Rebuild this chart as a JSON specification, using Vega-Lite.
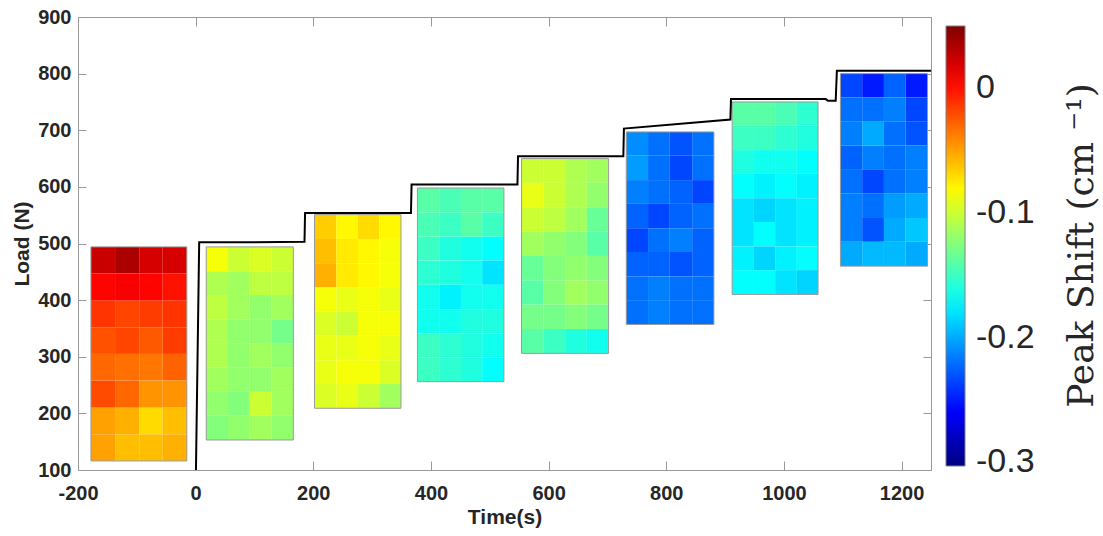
{
"$schema":"https://vega.github.io/schema/vega-lite/v6.json",
"width":853,"height":453,
"autosize":{"type":"none"},
"padding":{"left":78,"top":17,"right":172,"bottom":66},
"config":{"view":{"stroke":null},"axis":{"grid":false,"domainColor":"#999999","tickColor":"#999999","labelFlush":false}},
"datasets":{
"cells":[
{"t0":-178,"t1":-137,"f0":447,"f1":494,"shift":0.025},{"t0":-137,"t1":-96,"f0":447,"f1":494,"shift":0.035},{"t0":-96,"t1":-56,"f0":447,"f1":494,"shift":0.02},{"t0":-56,"t1":-15,"f0":447,"f1":494,"shift":0.02},
{"t0":-178,"t1":-137,"f0":399,"f1":447,"shift":0.005},{"t0":-137,"t1":-96,"f0":399,"f1":447,"shift":0.008},{"t0":-96,"t1":-56,"f0":399,"f1":447,"shift":0.005},{"t0":-56,"t1":-15,"f0":399,"f1":447,"shift":0.0},
{"t0":-178,"t1":-137,"f0":352,"f1":399,"shift":-0.012},{"t0":-137,"t1":-96,"f0":352,"f1":399,"shift":-0.018},{"t0":-96,"t1":-56,"f0":352,"f1":399,"shift":-0.015},{"t0":-56,"t1":-15,"f0":352,"f1":399,"shift":-0.012},
{"t0":-178,"t1":-137,"f0":305,"f1":352,"shift":-0.022},{"t0":-137,"t1":-96,"f0":305,"f1":352,"shift":-0.018},{"t0":-96,"t1":-56,"f0":305,"f1":352,"shift":-0.025},{"t0":-56,"t1":-15,"f0":305,"f1":352,"shift":-0.015},
{"t0":-178,"t1":-137,"f0":258,"f1":305,"shift":-0.03},{"t0":-137,"t1":-96,"f0":258,"f1":305,"shift":-0.033},{"t0":-96,"t1":-56,"f0":258,"f1":305,"shift":-0.035},{"t0":-56,"t1":-15,"f0":258,"f1":305,"shift":-0.028},
{"t0":-178,"t1":-137,"f0":210,"f1":258,"shift":-0.02},{"t0":-137,"t1":-96,"f0":210,"f1":258,"shift":-0.03},{"t0":-96,"t1":-56,"f0":210,"f1":258,"shift":-0.045},{"t0":-56,"t1":-15,"f0":210,"f1":258,"shift":-0.045},
{"t0":-178,"t1":-137,"f0":163,"f1":210,"shift":-0.05},{"t0":-137,"t1":-96,"f0":163,"f1":210,"shift":-0.055},{"t0":-96,"t1":-56,"f0":163,"f1":210,"shift":-0.07},{"t0":-56,"t1":-15,"f0":163,"f1":210,"shift":-0.06},
{"t0":-178,"t1":-137,"f0":116,"f1":163,"shift":-0.05},{"t0":-137,"t1":-96,"f0":116,"f1":163,"shift":-0.06},{"t0":-96,"t1":-56,"f0":116,"f1":163,"shift":-0.06},{"t0":-56,"t1":-15,"f0":116,"f1":163,"shift":-0.055},

{"t0":18,"t1":55,"f0":451,"f1":494,"shift":-0.085},{"t0":55,"t1":92,"f0":451,"f1":494,"shift":-0.1},{"t0":92,"t1":129,"f0":451,"f1":494,"shift":-0.095},{"t0":129,"t1":166,"f0":451,"f1":494,"shift":-0.1},
{"t0":18,"t1":55,"f0":409,"f1":451,"shift":-0.11},{"t0":55,"t1":92,"f0":409,"f1":451,"shift":-0.115},{"t0":92,"t1":129,"f0":409,"f1":451,"shift":-0.105},{"t0":129,"t1":166,"f0":409,"f1":451,"shift":-0.105},
{"t0":18,"t1":55,"f0":366,"f1":409,"shift":-0.105},{"t0":55,"t1":92,"f0":366,"f1":409,"shift":-0.115},{"t0":92,"t1":129,"f0":366,"f1":409,"shift":-0.12},{"t0":129,"t1":166,"f0":366,"f1":409,"shift":-0.115},
{"t0":18,"t1":55,"f0":324,"f1":366,"shift":-0.11},{"t0":55,"t1":92,"f0":324,"f1":366,"shift":-0.12},{"t0":92,"t1":129,"f0":324,"f1":366,"shift":-0.12},{"t0":129,"t1":166,"f0":324,"f1":366,"shift":-0.13},
{"t0":18,"t1":55,"f0":281,"f1":324,"shift":-0.11},{"t0":55,"t1":92,"f0":281,"f1":324,"shift":-0.12},{"t0":92,"t1":129,"f0":281,"f1":324,"shift":-0.115},{"t0":129,"t1":166,"f0":281,"f1":324,"shift":-0.12},
{"t0":18,"t1":55,"f0":238,"f1":281,"shift":-0.115},{"t0":55,"t1":92,"f0":238,"f1":281,"shift":-0.12},{"t0":92,"t1":129,"f0":238,"f1":281,"shift":-0.12},{"t0":129,"t1":166,"f0":238,"f1":281,"shift":-0.115},
{"t0":18,"t1":55,"f0":196,"f1":238,"shift":-0.12},{"t0":55,"t1":92,"f0":196,"f1":238,"shift":-0.125},{"t0":92,"t1":129,"f0":196,"f1":238,"shift":-0.1},{"t0":129,"t1":166,"f0":196,"f1":238,"shift":-0.115},
{"t0":18,"t1":55,"f0":153,"f1":196,"shift":-0.125},{"t0":55,"t1":92,"f0":153,"f1":196,"shift":-0.12},{"t0":92,"t1":129,"f0":153,"f1":196,"shift":-0.115},{"t0":129,"t1":166,"f0":153,"f1":196,"shift":-0.12},

{"t0":202,"t1":239,"f0":508,"f1":551,"shift":-0.065},{"t0":239,"t1":276,"f0":508,"f1":551,"shift":-0.08},{"t0":276,"t1":312,"f0":508,"f1":551,"shift":-0.07},{"t0":312,"t1":349,"f0":508,"f1":551,"shift":-0.08},
{"t0":202,"t1":239,"f0":465,"f1":508,"shift":-0.06},{"t0":239,"t1":276,"f0":465,"f1":508,"shift":-0.075},{"t0":276,"t1":312,"f0":465,"f1":508,"shift":-0.08},{"t0":312,"t1":349,"f0":465,"f1":508,"shift":-0.085},
{"t0":202,"t1":239,"f0":423,"f1":465,"shift":-0.055},{"t0":239,"t1":276,"f0":423,"f1":465,"shift":-0.075},{"t0":276,"t1":312,"f0":423,"f1":465,"shift":-0.08},{"t0":312,"t1":349,"f0":423,"f1":465,"shift":-0.085},
{"t0":202,"t1":239,"f0":380,"f1":423,"shift":-0.085},{"t0":239,"t1":276,"f0":380,"f1":423,"shift":-0.09},{"t0":276,"t1":312,"f0":380,"f1":423,"shift":-0.085},{"t0":312,"t1":349,"f0":380,"f1":423,"shift":-0.09},
{"t0":202,"t1":239,"f0":337,"f1":380,"shift":-0.095},{"t0":239,"t1":276,"f0":337,"f1":380,"shift":-0.1},{"t0":276,"t1":312,"f0":337,"f1":380,"shift":-0.085},{"t0":312,"t1":349,"f0":337,"f1":380,"shift":-0.085},
{"t0":202,"t1":239,"f0":294,"f1":337,"shift":-0.09},{"t0":239,"t1":276,"f0":294,"f1":337,"shift":-0.09},{"t0":276,"t1":312,"f0":294,"f1":337,"shift":-0.085},{"t0":312,"t1":349,"f0":294,"f1":337,"shift":-0.09},
{"t0":202,"t1":239,"f0":252,"f1":294,"shift":-0.09},{"t0":239,"t1":276,"f0":252,"f1":294,"shift":-0.085},{"t0":276,"t1":312,"f0":252,"f1":294,"shift":-0.085},{"t0":312,"t1":349,"f0":252,"f1":294,"shift":-0.095},
{"t0":202,"t1":239,"f0":209,"f1":252,"shift":-0.095},{"t0":239,"t1":276,"f0":209,"f1":252,"shift":-0.09},{"t0":276,"t1":312,"f0":209,"f1":252,"shift":-0.1},{"t0":312,"t1":349,"f0":209,"f1":252,"shift":-0.115},

{"t0":377,"t1":414,"f0":555,"f1":598,"shift":-0.14},{"t0":414,"t1":451,"f0":555,"f1":598,"shift":-0.145},{"t0":451,"t1":487,"f0":555,"f1":598,"shift":-0.14},{"t0":487,"t1":524,"f0":555,"f1":598,"shift":-0.14},
{"t0":377,"t1":414,"f0":512,"f1":555,"shift":-0.145},{"t0":414,"t1":451,"f0":512,"f1":555,"shift":-0.15},{"t0":451,"t1":487,"f0":512,"f1":555,"shift":-0.14},{"t0":487,"t1":524,"f0":512,"f1":555,"shift":-0.15},
{"t0":377,"t1":414,"f0":470,"f1":512,"shift":-0.15},{"t0":414,"t1":451,"f0":470,"f1":512,"shift":-0.16},{"t0":451,"t1":487,"f0":470,"f1":512,"shift":-0.165},{"t0":487,"t1":524,"f0":470,"f1":512,"shift":-0.17},
{"t0":377,"t1":414,"f0":427,"f1":470,"shift":-0.155},{"t0":414,"t1":451,"f0":427,"f1":470,"shift":-0.16},{"t0":451,"t1":487,"f0":427,"f1":470,"shift":-0.165},{"t0":487,"t1":524,"f0":427,"f1":470,"shift":-0.18},
{"t0":377,"t1":414,"f0":384,"f1":427,"shift":-0.165},{"t0":414,"t1":451,"f0":384,"f1":427,"shift":-0.175},{"t0":451,"t1":487,"f0":384,"f1":427,"shift":-0.165},{"t0":487,"t1":524,"f0":384,"f1":427,"shift":-0.165},
{"t0":377,"t1":414,"f0":341,"f1":384,"shift":-0.165},{"t0":414,"t1":451,"f0":341,"f1":384,"shift":-0.165},{"t0":451,"t1":487,"f0":341,"f1":384,"shift":-0.16},{"t0":487,"t1":524,"f0":341,"f1":384,"shift":-0.16},
{"t0":377,"t1":414,"f0":299,"f1":341,"shift":-0.15},{"t0":414,"t1":451,"f0":299,"f1":341,"shift":-0.155},{"t0":451,"t1":487,"f0":299,"f1":341,"shift":-0.16},{"t0":487,"t1":524,"f0":299,"f1":341,"shift":-0.165},
{"t0":377,"t1":414,"f0":256,"f1":299,"shift":-0.15},{"t0":414,"t1":451,"f0":256,"f1":299,"shift":-0.155},{"t0":451,"t1":487,"f0":256,"f1":299,"shift":-0.16},{"t0":487,"t1":524,"f0":256,"f1":299,"shift":-0.17},

{"t0":554,"t1":591,"f0":607,"f1":650,"shift":-0.1},{"t0":591,"t1":628,"f0":607,"f1":650,"shift":-0.1},{"t0":628,"t1":665,"f0":607,"f1":650,"shift":-0.11},{"t0":665,"t1":702,"f0":607,"f1":650,"shift":-0.115},
{"t0":554,"t1":591,"f0":564,"f1":607,"shift":-0.09},{"t0":591,"t1":628,"f0":564,"f1":607,"shift":-0.1},{"t0":628,"t1":665,"f0":564,"f1":607,"shift":-0.11},{"t0":665,"t1":702,"f0":564,"f1":607,"shift":-0.12},
{"t0":554,"t1":591,"f0":521,"f1":564,"shift":-0.1},{"t0":591,"t1":628,"f0":521,"f1":564,"shift":-0.105},{"t0":628,"t1":665,"f0":521,"f1":564,"shift":-0.115},{"t0":665,"t1":702,"f0":521,"f1":564,"shift":-0.135},
{"t0":554,"t1":591,"f0":478,"f1":521,"shift":-0.115},{"t0":591,"t1":628,"f0":478,"f1":521,"shift":-0.12},{"t0":628,"t1":665,"f0":478,"f1":521,"shift":-0.125},{"t0":665,"t1":702,"f0":478,"f1":521,"shift":-0.14},
{"t0":554,"t1":591,"f0":435,"f1":478,"shift":-0.135},{"t0":591,"t1":628,"f0":435,"f1":478,"shift":-0.125},{"t0":628,"t1":665,"f0":435,"f1":478,"shift":-0.12},{"t0":665,"t1":702,"f0":435,"f1":478,"shift":-0.125},
{"t0":554,"t1":591,"f0":392,"f1":435,"shift":-0.14},{"t0":591,"t1":628,"f0":392,"f1":435,"shift":-0.125},{"t0":628,"t1":665,"f0":392,"f1":435,"shift":-0.115},{"t0":665,"t1":702,"f0":392,"f1":435,"shift":-0.12},
{"t0":554,"t1":591,"f0":349,"f1":392,"shift":-0.13},{"t0":591,"t1":628,"f0":349,"f1":392,"shift":-0.13},{"t0":628,"t1":665,"f0":349,"f1":392,"shift":-0.125},{"t0":665,"t1":702,"f0":349,"f1":392,"shift":-0.13},
{"t0":554,"t1":591,"f0":306,"f1":349,"shift":-0.14},{"t0":591,"t1":628,"f0":306,"f1":349,"shift":-0.15},{"t0":628,"t1":665,"f0":306,"f1":349,"shift":-0.16},{"t0":665,"t1":702,"f0":306,"f1":349,"shift":-0.165},

{"t0":732,"t1":769,"f0":655,"f1":697,"shift":-0.21},{"t0":769,"t1":806,"f0":655,"f1":697,"shift":-0.22},{"t0":806,"t1":844,"f0":655,"f1":697,"shift":-0.23},{"t0":844,"t1":881,"f0":655,"f1":697,"shift":-0.22},
{"t0":732,"t1":769,"f0":612,"f1":655,"shift":-0.205},{"t0":769,"t1":806,"f0":612,"f1":655,"shift":-0.22},{"t0":806,"t1":844,"f0":612,"f1":655,"shift":-0.235},{"t0":844,"t1":881,"f0":612,"f1":655,"shift":-0.22},
{"t0":732,"t1":769,"f0":570,"f1":612,"shift":-0.215},{"t0":769,"t1":806,"f0":570,"f1":612,"shift":-0.22},{"t0":806,"t1":844,"f0":570,"f1":612,"shift":-0.225},{"t0":844,"t1":881,"f0":570,"f1":612,"shift":-0.235},
{"t0":732,"t1":769,"f0":527,"f1":570,"shift":-0.225},{"t0":769,"t1":806,"f0":527,"f1":570,"shift":-0.235},{"t0":806,"t1":844,"f0":527,"f1":570,"shift":-0.225},{"t0":844,"t1":881,"f0":527,"f1":570,"shift":-0.22},
{"t0":732,"t1":769,"f0":485,"f1":527,"shift":-0.235},{"t0":769,"t1":806,"f0":485,"f1":527,"shift":-0.22},{"t0":806,"t1":844,"f0":485,"f1":527,"shift":-0.215},{"t0":844,"t1":881,"f0":485,"f1":527,"shift":-0.225},
{"t0":732,"t1":769,"f0":442,"f1":485,"shift":-0.225},{"t0":769,"t1":806,"f0":442,"f1":485,"shift":-0.225},{"t0":806,"t1":844,"f0":442,"f1":485,"shift":-0.23},{"t0":844,"t1":881,"f0":442,"f1":485,"shift":-0.225},
{"t0":732,"t1":769,"f0":400,"f1":442,"shift":-0.22},{"t0":769,"t1":806,"f0":400,"f1":442,"shift":-0.215},{"t0":806,"t1":844,"f0":400,"f1":442,"shift":-0.22},{"t0":844,"t1":881,"f0":400,"f1":442,"shift":-0.22},
{"t0":732,"t1":769,"f0":357,"f1":400,"shift":-0.22},{"t0":769,"t1":806,"f0":357,"f1":400,"shift":-0.215},{"t0":806,"t1":844,"f0":357,"f1":400,"shift":-0.22},{"t0":844,"t1":881,"f0":357,"f1":400,"shift":-0.22},

{"t0":912,"t1":949,"f0":708,"f1":750,"shift":-0.14},{"t0":949,"t1":985,"f0":708,"f1":750,"shift":-0.14},{"t0":985,"t1":1022,"f0":708,"f1":750,"shift":-0.145},{"t0":1022,"t1":1058,"f0":708,"f1":750,"shift":-0.155},
{"t0":912,"t1":949,"f0":665,"f1":708,"shift":-0.15},{"t0":949,"t1":985,"f0":665,"f1":708,"shift":-0.15},{"t0":985,"t1":1022,"f0":665,"f1":708,"shift":-0.155},{"t0":1022,"t1":1058,"f0":665,"f1":708,"shift":-0.16},
{"t0":912,"t1":949,"f0":623,"f1":665,"shift":-0.16},{"t0":949,"t1":985,"f0":623,"f1":665,"shift":-0.165},{"t0":985,"t1":1022,"f0":623,"f1":665,"shift":-0.165},{"t0":1022,"t1":1058,"f0":623,"f1":665,"shift":-0.17},
{"t0":912,"t1":949,"f0":580,"f1":623,"shift":-0.17},{"t0":949,"t1":985,"f0":580,"f1":623,"shift":-0.175},{"t0":985,"t1":1022,"f0":580,"f1":623,"shift":-0.17},{"t0":1022,"t1":1058,"f0":580,"f1":623,"shift":-0.175},
{"t0":912,"t1":949,"f0":538,"f1":580,"shift":-0.18},{"t0":949,"t1":985,"f0":538,"f1":580,"shift":-0.185},{"t0":985,"t1":1022,"f0":538,"f1":580,"shift":-0.18},{"t0":1022,"t1":1058,"f0":538,"f1":580,"shift":-0.175},
{"t0":912,"t1":949,"f0":495,"f1":538,"shift":-0.18},{"t0":949,"t1":985,"f0":495,"f1":538,"shift":-0.17},{"t0":985,"t1":1022,"f0":495,"f1":538,"shift":-0.18},{"t0":1022,"t1":1058,"f0":495,"f1":538,"shift":-0.175},
{"t0":912,"t1":949,"f0":453,"f1":495,"shift":-0.175},{"t0":949,"t1":985,"f0":453,"f1":495,"shift":-0.185},{"t0":985,"t1":1022,"f0":453,"f1":495,"shift":-0.175},{"t0":1022,"t1":1058,"f0":453,"f1":495,"shift":-0.17},
{"t0":912,"t1":949,"f0":410,"f1":453,"shift":-0.17},{"t0":949,"t1":985,"f0":410,"f1":453,"shift":-0.17},{"t0":985,"t1":1022,"f0":410,"f1":453,"shift":-0.18},{"t0":1022,"t1":1058,"f0":410,"f1":453,"shift":-0.185},

{"t0":1096,"t1":1133,"f0":758,"f1":800,"shift":-0.235},{"t0":1133,"t1":1170,"f0":758,"f1":800,"shift":-0.25},{"t0":1170,"t1":1207,"f0":758,"f1":800,"shift":-0.225},{"t0":1207,"t1":1244,"f0":758,"f1":800,"shift":-0.25},
{"t0":1096,"t1":1133,"f0":715,"f1":758,"shift":-0.22},{"t0":1133,"t1":1170,"f0":715,"f1":758,"shift":-0.22},{"t0":1170,"t1":1207,"f0":715,"f1":758,"shift":-0.215},{"t0":1207,"t1":1244,"f0":715,"f1":758,"shift":-0.235},
{"t0":1096,"t1":1133,"f0":673,"f1":715,"shift":-0.215},{"t0":1133,"t1":1170,"f0":673,"f1":715,"shift":-0.2},{"t0":1170,"t1":1207,"f0":673,"f1":715,"shift":-0.22},{"t0":1207,"t1":1244,"f0":673,"f1":715,"shift":-0.23},
{"t0":1096,"t1":1133,"f0":630,"f1":673,"shift":-0.225},{"t0":1133,"t1":1170,"f0":630,"f1":673,"shift":-0.215},{"t0":1170,"t1":1207,"f0":630,"f1":673,"shift":-0.22},{"t0":1207,"t1":1244,"f0":630,"f1":673,"shift":-0.215},
{"t0":1096,"t1":1133,"f0":588,"f1":630,"shift":-0.22},{"t0":1133,"t1":1170,"f0":588,"f1":630,"shift":-0.235},{"t0":1170,"t1":1207,"f0":588,"f1":630,"shift":-0.22},{"t0":1207,"t1":1244,"f0":588,"f1":630,"shift":-0.215},
{"t0":1096,"t1":1133,"f0":545,"f1":588,"shift":-0.215},{"t0":1133,"t1":1170,"f0":545,"f1":588,"shift":-0.22},{"t0":1170,"t1":1207,"f0":545,"f1":588,"shift":-0.205},{"t0":1207,"t1":1244,"f0":545,"f1":588,"shift":-0.2},
{"t0":1096,"t1":1133,"f0":503,"f1":545,"shift":-0.215},{"t0":1133,"t1":1170,"f0":503,"f1":545,"shift":-0.23},{"t0":1170,"t1":1207,"f0":503,"f1":545,"shift":-0.2},{"t0":1207,"t1":1244,"f0":503,"f1":545,"shift":-0.19},
{"t0":1096,"t1":1133,"f0":460,"f1":503,"shift":-0.2},{"t0":1133,"t1":1170,"f0":460,"f1":503,"shift":-0.195},{"t0":1170,"t1":1207,"f0":460,"f1":503,"shift":-0.195},{"t0":1207,"t1":1244,"f0":460,"f1":503,"shift":-0.2}
],
"frames":[
{"t0":-178,"t1":-15,"f0":116,"f1":494},
{"t0":18,"t1":166,"f0":153,"f1":494},
{"t0":202,"t1":349,"f0":209,"f1":551},
{"t0":377,"t1":524,"f0":256,"f1":598},
{"t0":554,"t1":702,"f0":306,"f1":650},
{"t0":732,"t1":881,"f0":357,"f1":697},
{"t0":912,"t1":1058,"f0":410,"f1":750},
{"t0":1096,"t1":1244,"f0":460,"f1":800}
],
"load":[
{"t":0.5,"load":100},{"t":6,"load":502},{"t":100,"load":502},{"t":185,"load":503},
{"t":186,"load":554},{"t":300,"load":554},{"t":366,"load":554},
{"t":367,"load":604},{"t":460,"load":604},{"t":547,"load":604},
{"t":548,"load":654},{"t":640,"load":654},{"t":727,"load":654},
{"t":728,"load":703},{"t":909,"load":719},
{"t":910,"load":755},{"t":1071,"load":755},{"t":1075,"load":752},{"t":1088,"load":752},
{"t":1090,"load":805},{"t":1250,"load":805}
]
},
"layer":[
{
"data":{"name":"cells"},
"mark":{"type":"rect","stroke":null},
"encoding":{
"x":{"field":"t0","type":"quantitative","scale":{"domain":[-200,1250],"nice":false,"zero":false},
"axis":{"orient":"bottom","values":[-200,0,200,400,600,800,1000,1200],"labelExpr":"toString(datum.value)","tickSize":-9,"labelPadding":22,"labelFont":"Liberation Sans","labelFontSize":20,"labelFontWeight":"bold","labelColor":"#262626","labelOverlap":false,
"title":"Time(s)","titleFont":"Liberation Sans","titleFontSize":21,"titleFontWeight":"bold","titleColor":"#262626","titleX":426.5,"titleY":53,"titleBaseline":"alphabetic","titleAlign":"center"}},
"x2":{"field":"t1"},
"y":{"field":"f0","type":"quantitative","scale":{"domain":[100,900],"nice":false,"zero":false},
"axis":{"orient":"left","values":[100,200,300,400,500,600,700,800,900],"labelExpr":"toString(datum.value)","tickSize":-8,"labelPadding":15,"labelFont":"Liberation Sans","labelFontSize":20,"labelFontWeight":"bold","labelColor":"#262626","labelOverlap":false,
"title":"Load (N)","titleFont":"Liberation Sans","titleFontSize":21,"titleFontWeight":"bold","titleColor":"#262626","titleAngle":270,"titleX":-50,"titleY":226.5,"titleBaseline":"alphabetic","titleAlign":"center"}},
"y2":{"field":"f1"},
"color":{"field":"shift","type":"quantitative",
"scale":{"domain":[-0.303,-0.2589,-0.1706,-0.0824,0.0059,0.05],"range":["#000080","#0000ff","#00ffff","#ffff00","#ff0000","#800000"],"interpolate":"rgb"},
"legend":{"type":"gradient","orient":"none","direction":"vertical","legendX":868,"legendY":9,"title":null,"gradientLength":440,"gradientThickness":19,"gradientStrokeColor":"#808080","gradientStrokeWidth":1,"values":[-0.3,-0.2,-0.1,0],"labelExpr":"toString(datum.value)","labelFont":"Liberation Sans","labelFontSize":34,"labelColor":"#262626","labelOffset":11,"labelOverlap":false,"labelBaseline":"middle"}}
}
},
{
"data":{"name":"frames"},
"mark":{"type":"rect","filled":false,"stroke":"#9a9a9a","strokeWidth":1},
"encoding":{
"x":{"field":"t0","type":"quantitative","scale":{"domain":[-200,1250],"nice":false,"zero":false},"axis":null},
"x2":{"field":"t1"},
"y":{"field":"f0","type":"quantitative","scale":{"domain":[100,900],"nice":false,"zero":false},"axis":null},
"y2":{"field":"f1"}
}
},
{
"data":{"name":"load"},
"mark":{"type":"line","color":"#000000","strokeWidth":2},
"encoding":{
"x":{"field":"t","type":"quantitative","scale":{"domain":[-200,1250],"nice":false,"zero":false},
"axis":{"orient":"top","values":[-200,0,200,400,600,800,1000,1200],"tickSize":-9,"labels":false,"title":null}},
"y":{"field":"load","type":"quantitative","scale":{"domain":[100,900],"nice":false,"zero":false},
"axis":{"orient":"right","values":[100,200,300,400,500,600,700,800,900],"tickSize":-8,"labels":false,
"title":"Peak Shift (cm ⁻¹)","titleFont":"DejaVu Serif","titleFontSize":36,"titleFontWeight":"normal","titleColor":"#262626","titleAngle":270,"titleX":161,"titleY":228,"titleBaseline":"alphabetic","titleAlign":"center"}}
}
}
],
"resolve":{"axis":{"x":"independent","y":"independent"}}
}
